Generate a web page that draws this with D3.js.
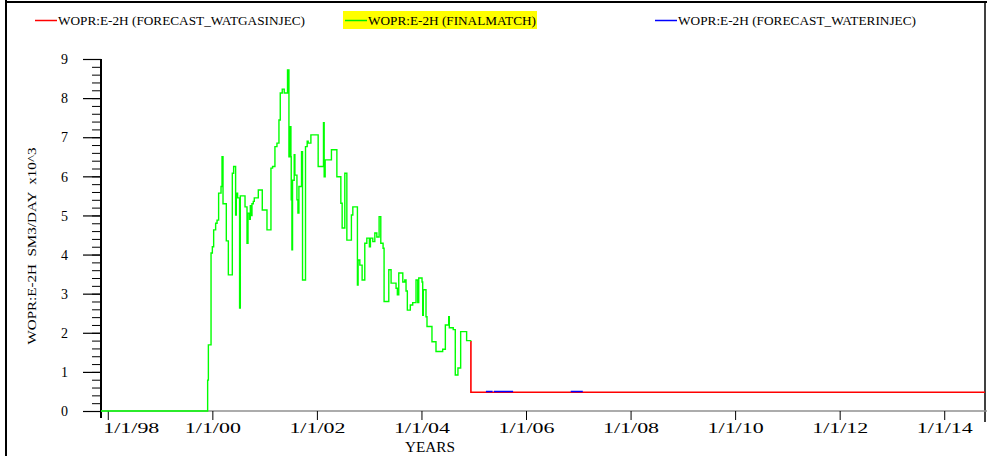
<!DOCTYPE html>
<html><head><meta charset="utf-8">
<script src="https://cdn.jsdelivr.net/npm/d3@7/dist/d3.min.js"></script>
<style>
html,body{margin:0;padding:0;background:#fff;}
svg{display:block;}
text{font-family:"Liberation Serif","Times New Roman",serif;fill:#000;}
</style></head>
<body><svg id="chart" width="987" height="456"></svg>
<script>
// ---- DATA ----
const greenYears = [
 1997.870, 1999.910, 1999.924, 1999.975, 2000.000, 2000.025, 2000.063, 2000.090, 2000.120, 2000.166,
 2000.185, 2000.204, 2000.267, 2000.306, 2000.382, 2000.407, 2000.445, 2000.458, 2000.483, 2000.521,
 2000.535, 2000.625, 2000.663, 2000.682, 2000.712, 2000.726, 2000.745, 2000.758, 2000.783, 2000.802,
 2000.879, 2000.955, 2001.045, 2001.121, 2001.152, 2001.197, 2001.236, 2001.274, 2001.299, 2001.337,
 2001.375, 2001.438, 2001.465, 2001.476, 2001.484, 2001.495, 2001.503, 2001.509, 2001.522, 2001.534,
 2001.566, 2001.579, 2001.618, 2001.637, 2001.656, 2001.706, 2001.725, 2001.782, 2001.814, 2001.833,
 2001.885, 2002.024, 2002.126, 2002.139, 2002.158, 2002.278, 2002.382, 2002.458, 2002.483, 2002.534,
 2002.573, 2002.660, 2002.687, 2002.775, 2002.788, 2002.821, 2002.865, 2002.916, 2002.955, 2003.004,
 2003.024, 2003.069, 2003.108, 2003.146, 2003.190, 2003.222, 2003.266, 2003.285, 2003.375, 2003.419,
 2003.514, 2003.539, 2003.566, 2003.643, 2003.681, 2003.705, 2003.730, 2003.787, 2003.833, 2003.896,
 2003.929, 2003.948, 2004.011, 2004.024, 2004.035, 2004.087, 2004.106, 2004.201, 2004.278, 2004.406,
 2004.457, 2004.521, 2004.533, 2004.608, 2004.647, 2004.698, 2004.750, 2004.864, 2004.941
];
const greenValues = [
 0, 0.79, 1.69, 4.04, 4.2, 4.63, 4.8, 4.88, 5.57, 5.74,
 6.5, 5.3, 4.35, 3.48, 6.08, 6.25, 5.01, 5.57, 5.45, 2.63,
 5.5, 5.22, 4.29, 5.06, 4.9, 5.25, 5.0, 5.3, 5.36, 5.45,
 5.65, 5.14, 4.63, 6.21, 6.25, 6.76, 6.85, 7.44, 8.13, 8.23,
 8.13, 8.72, 6.5, 7.27, 6.5, 7.27, 6.5, 5.4, 4.12, 5.9,
 6.55, 6.03, 5.4, 5.06, 5.74, 6.63, 3.35, 6.76, 6.9, 6.85,
 7.06, 6.25, 7.37, 5.99, 6.42, 6.68, 5.99, 5.31, 4.68, 6.08,
 4.37, 5.01, 5.22, 3.22, 3.86, 3.73, 3.35, 4.29, 4.42, 4.2,
 4.42, 4.33, 4.55, 4.45, 4.97, 4.29, 4.16, 2.8, 3.61, 3.27,
 3.14, 2.97, 3.53, 3.3, 3.35, 3.07, 2.58, 2.71, 2.77, 3.35,
 2.77, 3.4, 3.3, 2.45, 3.1, 2.41, 2.16, 1.77, 1.52, 1.58,
 2.2, 2.41, 2.13, 2.08, 0.92, 1.1, 2.03, 1.8, 1.77
];
const redYears  = [2004.941, 2004.946, 2014.780];
const redValues = [1.77, 0.48, 0.48];
const blueYears  = [2005.233, 2005.360, 2005.360, 2005.386, 2005.753, 2005.753, 2006.856, 2007.086];
const blueValues = [0.5, 0.5, null, 0.5, 0.5, null, 0.5, 0.5];

const xTickYears  = [1998, 2000, 2002, 2004, 2006, 2008, 2010, 2012, 2014];
const xTickLabels = ["1/1/98","1/1/00","1/1/02","1/1/04","1/1/06","1/1/08","1/1/10","1/1/12","1/1/14"];
const yTickValues = [0,1,2,3,4,5,6,7,8,9];
const yMinorValues = d3.range(0, 9.0001, 0.2);

const legendNames  = ["WOPR:E-2H (FORECAST_WATGASINJEC)", "WOPR:E-2H (FINALMATCH)", "WOPR:E-2H (FORECAST_WATERINJEC)"];
const legendColors = ["#ff0000", "#00ee00", "#0000ff"];
const yTitle = "WOPR:E-2H  SM3/DAY  x10^3";
const xTitle = "YEARS";

// ---- LAYOUT ----
const svg = d3.select("#chart");
const L = 101, R = 985, T = 59, B = 411;
const x = d3.scaleLinear().domain([1997.87, 2014.78]).range([L, R]);
const y = d3.scaleLinear().domain([0, 9]).range([B, T]);

// frame
svg.append("line").attr("x1",6).attr("x2",6).attr("y1",0).attr("y2",456).attr("stroke","#000").attr("stroke-width",2);
svg.append("line").attr("x1",5).attr("x2",987).attr("y1",2).attr("y2",2).attr("stroke","#000").attr("stroke-width",2);
svg.append("line").attr("x1",985).attr("x2",985).attr("y1",1).attr("y2",422).attr("stroke","#000").attr("stroke-width",1.5);

// legend
const legX = [35, 345, 655];
svg.append("rect").attr("x",343).attr("y",11).attr("width",194).attr("height",18).attr("fill","#ffff00");
const legTextLen = [247, 168, 238];
legendNames.forEach((n,i)=>{
  svg.append("line").attr("x1",legX[i]).attr("x2",legX[i]+22).attr("y1",20.5).attr("y2",20.5)
     .attr("stroke",legendColors[i]).attr("stroke-width",1.5);
  svg.append("text").attr("x",legX[i]+23).attr("y",25).attr("font-size",13)
     .attr("textLength",legTextLen[i]).attr("lengthAdjust","spacingAndGlyphs").text(n);
});

// y axis
const yAxisG = svg.append("g").attr("transform",`translate(${L},0)`)
  .call(d3.axisLeft(y).tickValues(yTickValues).tickSize(18).tickPadding(15).tickFormat(d3.format("d")));
yAxisG.select(".domain").remove();
yAxisG.selectAll(".tick line").attr("stroke","#000").attr("stroke-width",1.2);
yAxisG.selectAll(".tick text").attr("font-family","Liberation Serif").attr("font-size",14).attr("dy","0.34em");
const yMinorG = svg.append("g").attr("transform",`translate(${L},0)`)
  .call(d3.axisLeft(y).tickValues(yMinorValues).tickSize(9).tickFormat(""));
yMinorG.select(".domain").remove();
yMinorG.selectAll(".tick line").attr("stroke","#000").attr("stroke-width",1);
svg.append("line").attr("x1",L).attr("x2",L).attr("y1",T).attr("y2",B+7).attr("stroke","#000").attr("stroke-width",2);

// x axis
const xAxisG = svg.append("g").attr("transform",`translate(0,${B})`)
  .call(d3.axisBottom(x).tickValues(xTickYears).tickSize(9).tickPadding(3)
        .tickFormat((d,i)=>xTickLabels[i]));
xAxisG.select(".domain").attr("stroke","#909090").attr("stroke-width",1.6).attr("d",`M${L},0H987`);
xAxisG.selectAll(".tick line").attr("stroke","#000").attr("stroke-width",1);
xAxisG.selectAll(".tick text").attr("font-family","Liberation Serif").attr("font-size",14)
  .attr("textLength",56).attr("lengthAdjust","spacingAndGlyphs");
xAxisG.selectAll(".tick text").filter((d,i)=>i===0).attr("text-anchor","start").attr("x",-5);

svg.append("text").attr("x",430).attr("y",452).attr("text-anchor","middle").attr("font-size",15)
  .attr("textLength",50).attr("lengthAdjust","spacingAndGlyphs").text(xTitle);

// y title
svg.append("text").attr("transform","translate(36,246) rotate(-90)").attr("text-anchor","middle")
  .attr("font-size",13).attr("textLength",197).attr("lengthAdjust","spacingAndGlyphs")
  .style("white-space","pre").attr("xml:space","preserve").text(yTitle);

// series
const mk = (ys, vs) => ys.map((t,i)=>({t, v: vs[i]}));
const line = d3.line().defined(d=>d.v!=null).x(d=>x(d.t)).y(d=>y(d.v)).curve(d3.curveStepAfter);
svg.append("path").datum(mk(greenYears, greenValues)).attr("d",line)
  .attr("fill","none").attr("stroke","#00ff00").attr("stroke-width",1.4);
svg.append("path").datum(mk(redYears, redValues)).attr("d",line)
  .attr("fill","none").attr("stroke","#ff0000").attr("stroke-width",1.6);
svg.append("path").datum(mk(blueYears, blueValues)).attr("d",line)
  .attr("fill","none").attr("stroke","#0000ff").attr("stroke-width",1.4);
</script></body></html>
